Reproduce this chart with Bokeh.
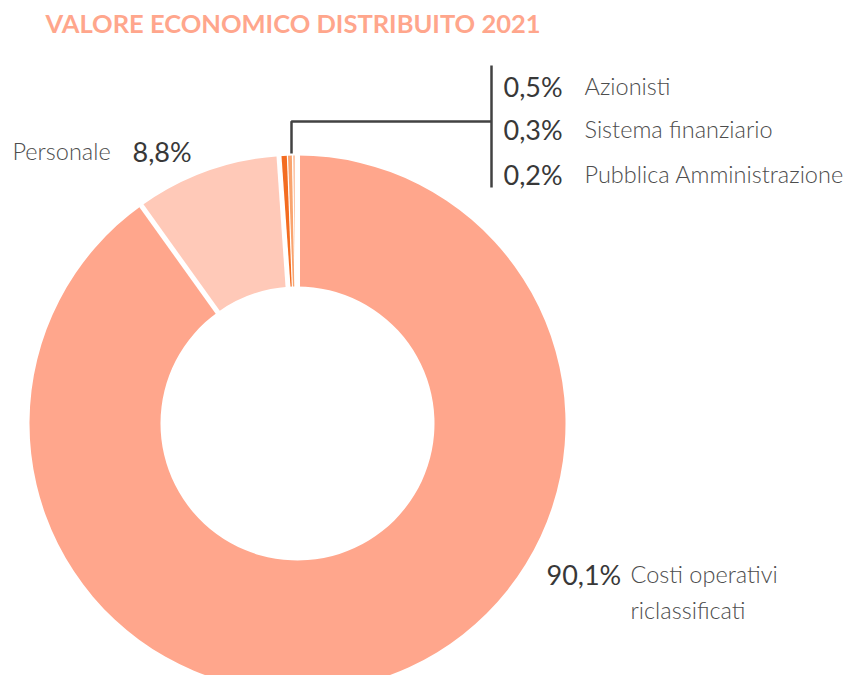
import numpy as np
from bokeh.plotting import figure
from bokeh.models import ColumnDataSource, Range1d
from bokeh.core.properties import value
from bokeh.embed import file_html
from bokeh.resources import INLINE

# ---- data ----
categories = ["Costi operativi riclassificati", "Personale", "Azionisti",
              "Sistema finanziario", "Pubblica Amministrazione", "Altro"]
shares = [90.1, 8.8, 0.5, 0.3, 0.2, 0.1]
pct_labels = ["90,1%", "8,8%", "0,5%", "0,3%", "0,2%"]
slice_colors = ["#FFA68C", "#FFC9B8", "#F36C21", "#F9A46F", "#FCC7AA", "#FEE3D5"]
title_text = "VALORE ECONOMICO DISTRIBUITO 2021"

# ---- layout helpers (image px -> data) ----
W, H = 846, 675
def X(px):
    return px
def Y(py):
    return H - py

cx, cy = X(297), Y(423)
R_OUT, R_IN = 268, 137

p = figure(width=W, height=H, output_backend="svg", toolbar_location=None,
           x_range=Range1d(0, W), y_range=Range1d(0, H), min_border=0,
           outline_line_color=None, background_fill_color="white")
p.axis.visible = False
p.grid.visible = False

vals = np.array(shares, dtype=float)
total = 100.0
cum = np.concatenate([[0], np.cumsum(vals)])
start = np.pi / 2 - 2 * np.pi * cum[:-1] / total
end = np.pi / 2 - 2 * np.pi * cum[1:] / total

src = ColumnDataSource(dict(start=start, end=end, color=slice_colors, cat=categories))
p.annular_wedge(x=cx, y=cy, inner_radius=R_IN, outer_radius=R_OUT,
                inner_radius_units="screen", outer_radius_units="screen",
                start_angle="start", end_angle="end", direction="clock",
                fill_color="color", line_color=None, source=src)

# white separators between slices
bounds = np.pi / 2 - 2 * np.pi * cum[:-1] / total
gap_w = [5, 5, 5, 1.2, 1.2, 1.2]
p.ray(x=[cx] * len(bounds), y=[cy] * len(bounds), length=R_OUT + 6, length_units="screen",
      angle=bounds, line_color="white", line_width=gap_w)

# connector lines
line_col = "#424242"
p.line(x=[X(291), X(291), X(491)], y=[Y(153), Y(121), Y(121)], line_color=line_col, line_width=2.5)
p.line(x=[X(491), X(491)], y=[Y(65), Y(187)], line_color=line_col, line_width=2.5)

# title
p.text(x=[X(45)], y=[Y(22)], text=[title_text], text_font=value("Lato"), text_font_style="bold",
       text_font_size="25.5px", text_color="#FFA68C", text_baseline="middle", text_align="left")

# percentage labels
pct_src = ColumnDataSource(dict(
    x=[X(546), X(132), X(503), X(503), X(503)],
    y=[Y(574), Y(151), Y(86), Y(129), Y(174)],
    t=pct_labels))
p.text(x="x", y="y", text="t", source=pct_src, text_font=value("Lato"),
       text_font_size="27px", text_color="#383838", text_baseline="middle", text_align="left")

# category labels
cat_src = ColumnDataSource(dict(
    x=[X(630), X(630), X(12), X(584), X(584), X(584)],
    y=[Y(573), Y(609), Y(150), Y(85), Y(128), Y(173)],
    t=["Costi operativi", "riclassificati", categories[1], categories[2], categories[3], categories[4]]))
p.text(x="x", y="y", text="t", source=cat_src, text_font=value("Lato Light"),
       text_font_size="23.5px", text_color="#4d4d4d", text_baseline="middle", text_align="left")

open("out.html", "w").write(file_html(p, INLINE))
